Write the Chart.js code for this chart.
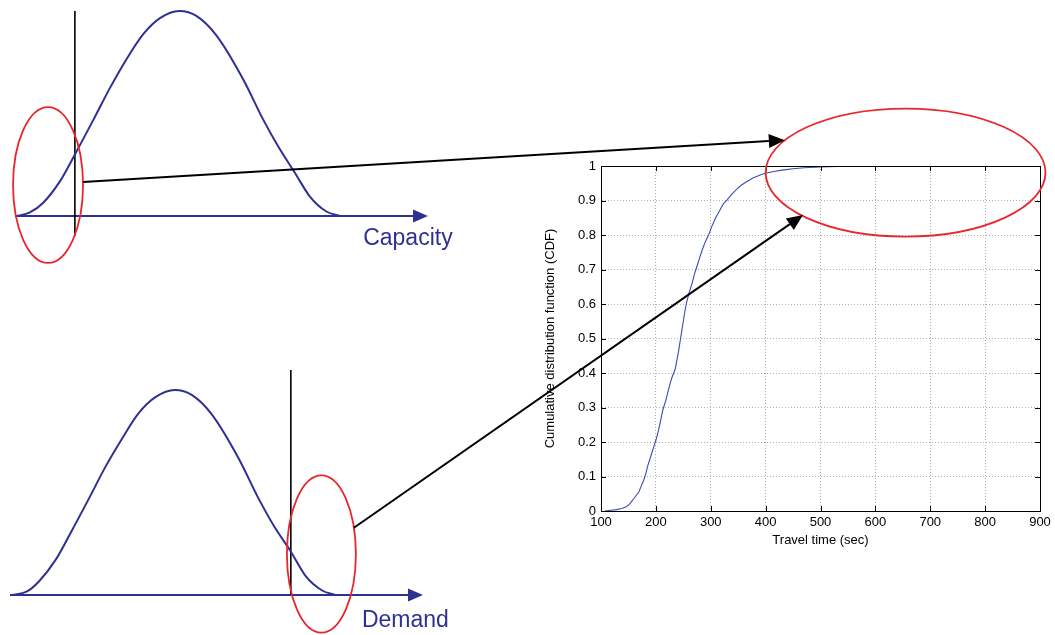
<!DOCTYPE html>
<html>
<head>
<meta charset="utf-8">
<script src="https://cdn.jsdelivr.net/npm/chart.js"></script>
<style>
  html, body { margin: 0; padding: 0; background: #fff; }
  .layer { position: absolute; left: 0; top: 0; width: 1055px; height: 635px; }
  .layer canvas { pointer-events: none; }
</style>
</head>
<body>
<div class="layer"><canvas id="capacityChart"></canvas></div>
<div class="layer"><canvas id="demandChart"></canvas></div>
<div class="layer"><canvas id="cdfChart"></canvas></div>
<script>
// capacity density sketch (x in % of axis, y relative to peak)
const capacityX = [0.4, 3.5, 6.9, 10.9, 14.5, 19.0, 23.0, 27.0, 31.1, 35.1, 39.8, 44.0, 48.8, 55.3, 60.1, 64.0, 67.8, 71.4, 75.4, 78.7];
const capacityY = [0, 0.016, 0.066, 0.17, 0.30, 0.47, 0.625, 0.765, 0.888, 0.965, 1.0, 0.975, 0.88, 0.665, 0.47, 0.33, 0.21, 0.095, 0.022, 0];

// demand density sketch
const demandX = [0.5, 4.0, 7.0, 11.0, 14.6, 19.1, 23.1, 27.2, 31.2, 35.2, 39.9, 44.1, 48.9, 55.4, 60.2, 64.1, 67.9, 71.5, 75.6, 78.8];
const demandY = [0, 0.016, 0.066, 0.17, 0.30, 0.47, 0.625, 0.765, 0.888, 0.965, 1.0, 0.975, 0.88, 0.665, 0.47, 0.33, 0.215, 0.095, 0.022, 0];

// empirical CDF of travel time
const travelTime = [107, 118, 128, 138, 146, 152, 158, 164, 169, 174, 178, 182, 185, 190, 195, 200, 205, 209, 213, 218,
  222, 226, 230, 235, 238, 241, 244, 247, 250, 253, 256, 261, 266, 270, 274, 279, 284, 290, 296, 302,
  309, 316, 323, 330, 338, 347, 356, 366, 377, 390, 400, 415, 430, 450, 470, 500, 530, 553];
const cdfValues = [0, 0.002, 0.004, 0.007, 0.012, 0.02, 0.032, 0.045, 0.055, 0.075, 0.09, 0.11, 0.13, 0.155, 0.18, 0.205, 0.235, 0.265, 0.295, 0.32,
  0.345, 0.37, 0.39, 0.41, 0.435, 0.46, 0.49, 0.52, 0.55, 0.58, 0.605, 0.635, 0.66, 0.685, 0.705, 0.73, 0.755, 0.78, 0.80, 0.825,
  0.85, 0.87, 0.89, 0.902, 0.918, 0.932, 0.945, 0.955, 0.965, 0.974, 0.979, 0.984, 0.988, 0.992, 0.995, 0.997, 0.999, 1];

const xTicks = [100, 200, 300, 400, 500, 600, 700, 800, 900];
const yTicks = [0, 0.1, 0.2, 0.3, 0.4, 0.5, 0.6, 0.7, 0.8, 0.9, 1];

const NAVY = '#2e3192';
const RED = '#e8262b';
const FONT = 'Liberation Sans, Arial, Helvetica, sans-serif';

function ellipsePath(ctx, cx, cy, rx, ry) {
    ctx.beginPath();
    ctx.ellipse(cx, cy, Math.abs(rx), Math.abs(ry), 0, 0, Math.PI * 2);
}

function arrowHead(ctx, x1, y1, x2, y2, len, half) {
    const a = Math.atan2(y2 - y1, x2 - x1);
    const bx = x2 - len * Math.cos(a), by = y2 - len * Math.sin(a);
    ctx.beginPath();
    ctx.moveTo(x2, y2);
    ctx.lineTo(bx + half * Math.sin(a), by - half * Math.cos(a));
    ctx.lineTo(bx - half * Math.sin(a), by + half * Math.cos(a));
    ctx.closePath();
    ctx.fill();
    return [bx, by];
}

// axis arrow, threshold line, ellipse and label of a density panel
const panelDecor = {
    id: 'panelDecor',
    beforeDatasetsDraw(chart, args, o) {
        const {ctx, scales: {x, y}} = chart;
        const y0 = y.getPixelForValue(0);
        ctx.save();
        ctx.fillStyle = NAVY;
        ctx.strokeStyle = NAVY;
        ctx.lineWidth = 2;
        const base = arrowHead(ctx, x.getPixelForValue(0), y0, x.getPixelForValue(100), y0, 15, 6.5);
        ctx.beginPath();
        ctx.moveTo(x.getPixelForValue(0), y0);
        ctx.lineTo(base[0] + 1, y0);
        ctx.stroke();

        ctx.strokeStyle = '#000';
        ctx.lineWidth = 1.6;
        const tx = x.getPixelForValue(o.threshold);
        ctx.beginPath();
        ctx.moveTo(tx, y.getPixelForValue(o.thresholdTop));
        ctx.lineTo(tx, y.getPixelForValue(o.thresholdBottom));
        ctx.stroke();
        ctx.restore();
    },
    afterDatasetsDraw(chart, args, o) {
        const {ctx, scales: {x, y}} = chart;
        const e = o.ellipse;
        ctx.save();
        ctx.strokeStyle = RED;
        ctx.lineWidth = 1.8;
        const cx = x.getPixelForValue(e.cx), cy = y.getPixelForValue(e.cy);
        ellipsePath(ctx, cx, cy, x.getPixelForValue(e.cx + e.rx) - cx, cy - y.getPixelForValue(e.cy + e.ry));
        ctx.stroke();

        ctx.fillStyle = NAVY;
        ctx.font = '23px ' + FONT;
        ctx.textBaseline = 'alphabetic';
        ctx.fillText(o.label, x.getPixelForValue(o.labelX), y.getPixelForValue(0) + o.labelDy);
        ctx.restore();
    }
};

// point on a panel ellipse (page pixels) at angle t
function ellipsePoint(chart, t) {
    const e = chart.options.plugins.panelDecor.ellipse;
    const {x, y} = chart.scales;
    const cx = x.getPixelForValue(e.cx), cy = y.getPixelForValue(e.cy);
    const rx = x.getPixelForValue(e.cx + e.rx) - cx;
    const ry = cy - y.getPixelForValue(e.cy + e.ry);
    return [cx + rx * Math.cos(t), cy - ry * Math.sin(t)];
}

function makePanel(id, xs, ys, padding, decor) {
    return new Chart(document.getElementById(id), {
        type: 'line',
        data: {
            datasets: [{
                data: xs.map((v, i) => ({x: v, y: ys[i]})),
                borderColor: NAVY,
                borderWidth: 2,
                pointRadius: 0,
                cubicInterpolationMode: 'monotone',
                clip: false
            }]
        },
        options: {
            responsive: true,
            maintainAspectRatio: false,
            animation: false,
            events: [],
            layout: {padding: padding},
            scales: {
                x: {type: 'linear', min: 0, max: 100, display: false},
                y: {type: 'linear', min: 0, max: 1, display: false}
            },
            plugins: {legend: {display: false}, tooltip: {enabled: false}, panelDecor: decor}
        },
        plugins: [panelDecor]
    });
}

const capChart = makePanel('capacityChart', capacityX, capacityY,
    {left: 15, right: 627, top: 11, bottom: 419},
    {threshold: 14.5, thresholdTop: 1.0, thresholdBottom: -0.098,
     ellipse: {cx: 8.0, cy: 0.151, rx: 8.47, ry: 0.38},
     label: 'Capacity', labelX: 84.3, labelDy: 29});

const demChart = makePanel('demandChart', demandX, demandY,
    {left: 10, right: 632, top: 390, bottom: 40},
    {threshold: 68.0, thresholdTop: 1.098, thresholdBottom: 0,
     ellipse: {cx: 75.4, cy: 0.2, rx: 8.35, ry: 0.384},
     label: 'Demand', labelX: 85.2, labelDy: 31.5});

// zoom ellipse and arrow tips in CDF units
const zoomEllipse = {cx: 655, cy: 0.981, rx: 255, ry: 0.1855};
const arrowTips = [
    {from: capChart, angle: 0.04, x: 435, y: 1.075},
    {from: demChart, angle: 0.34, x: 468, y: 0.858}
];

const cdfDecor = {
    id: 'cdfDecor',
    afterDraw(chart) {
        const {ctx, chartArea: a, scales: {x, y}} = chart;
        ctx.save();
        ctx.strokeStyle = '#000';
        ctx.lineWidth = 1;
        ctx.strokeRect(Math.round(a.left) + 0.5, Math.round(a.top) + 0.5, Math.round(a.right - a.left), Math.round(a.bottom - a.top));
        ctx.beginPath();
        xTicks.forEach(v => {
            const px = Math.round(x.getPixelForValue(v)) + 0.5;
            ctx.moveTo(px, a.bottom); ctx.lineTo(px, a.bottom - 5);
            ctx.moveTo(px, a.top); ctx.lineTo(px, a.top + 5);
        });
        yTicks.forEach(v => {
            const py = Math.round(y.getPixelForValue(v)) + 0.5;
            ctx.moveTo(a.left, py); ctx.lineTo(a.left + 5, py);
            ctx.moveTo(a.right, py); ctx.lineTo(a.right - 5, py);
        });
        ctx.stroke();

        // big ellipse on the tail
        ctx.strokeStyle = RED;
        ctx.lineWidth = 1.8;
        const cx = x.getPixelForValue(zoomEllipse.cx), cy = y.getPixelForValue(zoomEllipse.cy);
        ellipsePath(ctx, cx, cy, x.getPixelForValue(zoomEllipse.cx + zoomEllipse.rx) - cx, cy - y.getPixelForValue(zoomEllipse.cy + zoomEllipse.ry));
        ctx.stroke();

        // connectors from the panel ellipses
        ctx.strokeStyle = '#000';
        ctx.fillStyle = '#000';
        ctx.lineWidth = 2;
        arrowTips.forEach(t => {
            const s = ellipsePoint(t.from, t.angle);
            const ex = x.getPixelForValue(t.x), ey = y.getPixelForValue(t.y);
            const b = arrowHead(ctx, s[0], s[1], ex, ey, 16, 7);
            ctx.beginPath();
            ctx.moveTo(s[0], s[1]);
            ctx.lineTo(b[0], b[1]);
            ctx.stroke();
        });
        ctx.restore();
    }
};

new Chart(document.getElementById('cdfChart'), {
    type: 'line',
    data: {
        datasets: [{
            data: travelTime.map((v, i) => ({x: v, y: cdfValues[i]})),
            borderColor: '#3a4cb2',
            borderWidth: 1.1,
            pointRadius: 0,
            tension: 0
        }]
    },
    options: {
        responsive: true,
        maintainAspectRatio: false,
        animation: false,
        events: [],
        layout: {padding: {left: 541, right: 15, top: 166, bottom: 84}},
        scales: {
            x: {
                type: 'linear', min: 100, max: 900,
                afterFit: s => { s.height = 40; },
                afterBuildTicks: s => { s.ticks = xTicks.map(v => ({value: v})); },
                ticks: {color: '#000', padding: 4, font: {family: FONT, size: 13}, maxRotation: 0},
                grid: {color: '#b0b0b0', drawTicks: false},
                border: {display: true, color: '#000', dash: [1, 2]},
                title: {display: true, text: 'Travel time (sec)', color: '#000', font: {family: FONT, size: 13}, padding: {top: 0, bottom: 3}}
            },
            y: {
                type: 'linear', min: 0, max: 1,
                afterFit: s => { s.width = 60; },
                afterBuildTicks: s => { s.ticks = yTicks.map(v => ({value: v})); },
                ticks: {color: '#000', padding: 5, font: {family: FONT, size: 13}, callback: v => String(Math.round(v * 10) / 10)},
                grid: {color: '#b0b0b0', drawTicks: false},
                border: {display: true, color: '#000', dash: [1, 2]},
                title: {display: true, text: 'Cumulative distribution function (CDF)', color: '#000', font: {family: FONT, size: 13}, padding: {top: 2, bottom: 0}}
            }
        },
        plugins: {legend: {display: false}, tooltip: {enabled: false}}
    },
    plugins: [cdfDecor]
});
</script>
</body>
</html>
